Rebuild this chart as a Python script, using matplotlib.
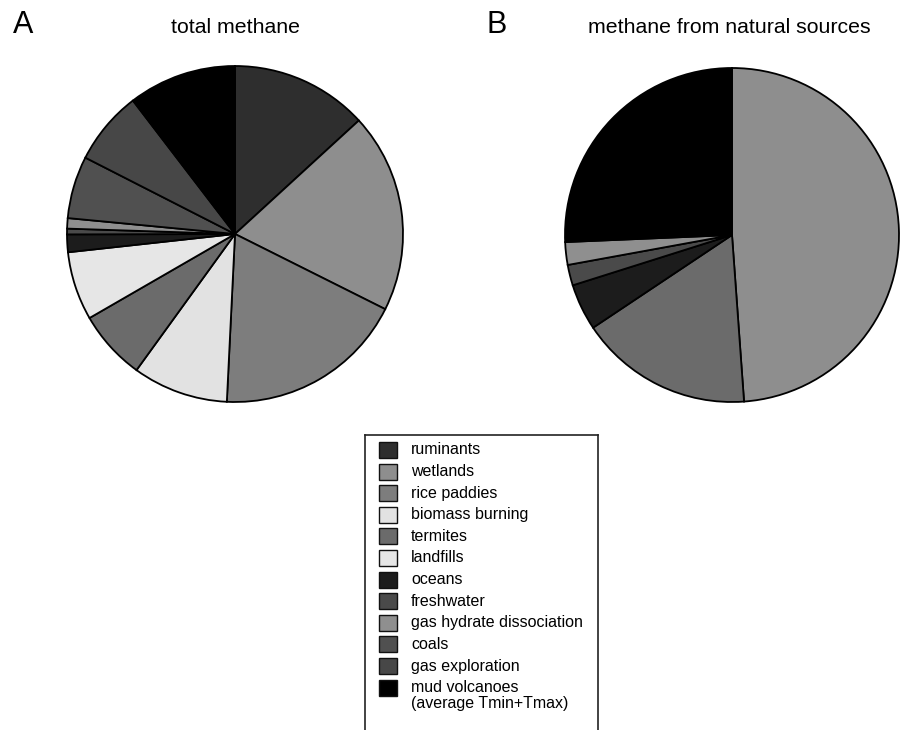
import matplotlib
matplotlib.use("Agg")
import matplotlib.pyplot as plt
from matplotlib.patches import Rectangle

plt.rcParams['font.family'] = ['Liberation Sans', 'DejaVu Sans']

# ---- data (shares) ----
labels = ["ruminants", "wetlands", "rice paddies", "biomass burning", "termites",
          "landfills", "oceans", "freshwater", "gas hydrate dissociation", "coals",
          "gas exploration", "mud volcanoes\n(average Tmin+Tmax)"]
colors = ["#2e2e2e", "#8e8e8e", "#7d7d7d", "#e2e2e2", "#6b6b6b",
          "#e6e6e6", "#1c1c1c", "#4a4a4a", "#8f8f8f", "#505050",
          "#474747", "#000000"]
total_values = [13.2, 19.2, 18.4, 9.2, 6.7, 6.6, 1.7, 0.55, 1.0, 6.0, 7.1, 10.4]

natural_labels = ["wetlands", "termites", "oceans", "freshwater",
                  "gas hydrate dissociation", "mud volcanoes\n(average Tmin+Tmax)"]
natural_values = [48.9, 16.8, 4.5, 2.0, 2.2, 25.7]

W, H = 905, 730
fig = plt.figure(figsize=(W / 100, H / 100), dpi=100)


def add_px_axes(left, top, width, height):
    return fig.add_axes([left / W, 1 - (top + height) / H, width / W, height / H])


def draw_pie(ax, values, cols):
    ax.pie(values, colors=cols, startangle=90, counterclock=False, radius=1,
           wedgeprops=dict(edgecolor="black", linewidth=1.3))
    ax.set_xlim(-1.02, 1.02)
    ax.set_ylim(-1.02, 1.02)
    ax.set_aspect("equal")
    ax.axis("off")


color_of = dict(zip(labels, colors))

# Pie A
rA = 168
axA = add_px_axes(235 - rA * 1.02, 234 - rA * 1.02, 2 * rA * 1.02, 2 * rA * 1.02)
draw_pie(axA, total_values, colors)

# Pie B
rB = 167
axB = add_px_axes(732 - rB * 1.02, 235 - rB * 1.02, 2 * rB * 1.02, 2 * rB * 1.02)
draw_pie(axB, natural_values, [color_of[l] for l in natural_labels])

# Titles
fig.text(13 / W, 1 - 33 / H, "A", fontsize=22, ha="left", va="baseline")
fig.text(235 / W, 1 - 33 / H, "total methane", fontsize=15.3, ha="center", va="baseline")
fig.text(486 / W, 1 - 33 / H, "B", fontsize=22, ha="left", va="baseline")
fig.text(729 / W, 1 - 33 / H, "methane from natural sources", fontsize=15.3,
         ha="center", va="baseline")

# Legend box (extends past the bottom of the figure)
leg_left, leg_top, leg_w, leg_h = 365, 435, 233, 320
axL = add_px_axes(leg_left, leg_top, leg_w, leg_h)
axL.set_xlim(0, leg_w)
axL.set_ylim(leg_h, 0)
axL.set_xticks([])
axL.set_yticks([])
for s in axL.spines.values():
    s.set_linewidth(1.2)
    s.set_edgecolor("#222222")

row0, step = 15.0, 21.6
for i, (lab, col) in enumerate(zip(labels, colors)):
    yc = row0 + i * step
    axL.add_patch(Rectangle((14, yc - 8), 18, 16, facecolor=col,
                            edgecolor="#111111", linewidth=1.0))
    lines = lab.split("\n")
    for j, ln in enumerate(lines):
        axL.text(46, yc + j * 15.5, ln, fontsize=11.5, ha="left", va="center")

fig.savefig("out.png", dpi=100)
